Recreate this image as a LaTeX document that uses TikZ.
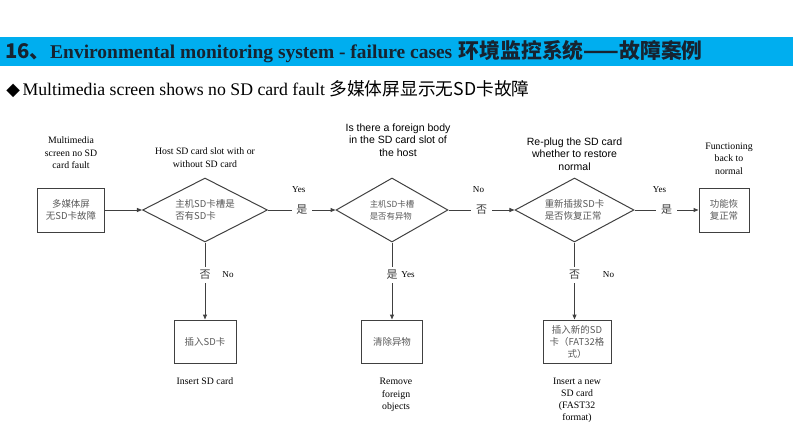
\documentclass[tikz,border=0pt]{standalone}
\usepackage{fontspec}
\setmainfont{Liberation Serif}
\setsansfont{Liberation Sans}
\newfontfamily\cjk{Noto Sans CJK SC}
\newfontfamily\symfont{DejaVu Sans}
\definecolor{barblue}{RGB}{0,174,239}
\definecolor{titleink}{RGB}{23,35,48}
\definecolor{linegray}{RGB}{64,64,64}
\definecolor{cjkgray}{RGB}{89,89,89}
\usetikzlibrary{arrows.meta, shapes.geometric, positioning, calc}

\begin{document}
\begin{tikzpicture}[x=0.75pt, y=-0.75pt,
    box/.style={draw=linegray, line width=0.75pt, inner sep=0pt, align=center,
                text=cjkgray, font=\cjk\fontsize{7.1pt}{9pt}\selectfont, minimum height=33pt},
    dec/.style={diamond, aspect=2, draw=linegray, line width=0.75pt, inner sep=0pt, align=left,
                text=cjkgray, font=\cjk\fontsize{7.1pt}{9pt}\selectfont, minimum height=48pt},
    arr/.style={-{Triangle[length=3.75pt,width=3pt]}, line width=0.75pt, linegray},
    en/.style={font=\fontsize{7.35pt}{9.2pt}\selectfont, align=center, inner sep=0pt},
    ensf/.style={font=\sffamily\fontsize{7.9pt}{9.2pt}\selectfont, align=center, inner sep=0pt},
    yn/.style={font=\fontsize{6.8pt}{8pt}\selectfont, inner sep=0pt},
    cut/.style={fill=white, font=\cjk\fontsize{8.25pt}{9pt}\selectfont, inner xsep=3.4pt, inner ysep=2.2pt}
  ]
  \useasboundingbox (0,0) rectangle (793,446);
  \fill[barblue] (0,37) rectangle (793,66);
  \node[anchor=base west, inner sep=0pt, text=titleink] (title) at (5,58)
    {{\cjk\bfseries\fontsize{15.2pt}{16pt}\selectfont 16、}\textbf{\fontsize{14.6pt}{16pt}\selectfont Environmental monitoring system - failure cases}\hspace{2.5pt} {\cjk\bfseries\fontsize{15.6pt}{16pt}\selectfont 环境监控系统——故障案例}};
  \node[anchor=base west, inner sep=0pt, font=\fontsize{13.3pt}{15pt}\selectfont] (subtitle) at (6,95)
    {{\symfont ◆}\hspace{2pt}Multimedia screen shows no SD card fault {\cjk 多媒体屏显示无SD卡故障}};

  \node[box, minimum width=50.25pt] (fault) at (71,210) {多媒体屏\\无SD卡故障};
  \node[dec, minimum width=93.75pt] (hascard) at (205,210) {主机SD卡槽是\\否有SD卡};
  \node[dec, minimum width=84pt, font=\cjk\fontsize{6.3pt}{9pt}\selectfont] (foreign) at (392,210) {主机SD卡槽\\是否有异物};
  \node[dec, minimum width=89.25pt] (replug) at (574.5,210) {重新插拔SD卡\\是否恢复正常};
  \node[box, minimum width=37.5pt] (normal) at (724,210) {功能恢\\复正常};
  \node[box, minimum width=46.5pt, minimum height=32.25pt] (insert) at (205,341.5) {插入SD卡};
  \node[box, minimum width=45.75pt, minimum height=32.25pt] (remove) at (392,341.5) {清除异物};
  \node[box, minimum width=51pt, minimum height=32.25pt] (newcard) at (577,341.5) {插入新的SD\\卡（FAT32格\\式）};

  \node[en, above=14pt of fault] {Multimedia\\screen no SD\\card fault};
  \node[en, above=7.5pt of hascard] {Host SD card slot with or\\without SD card};
  \node[ensf, above=15.75pt of foreign, xshift=4.5pt] {Is there a foreign body\\in the SD card slot of\\the host};
  \node[ensf, above=5.25pt of replug] {Re-plug the SD card\\whether to restore\\normal};
  \node[en, above=9.75pt of normal, xshift=3.75pt] {Functioning\\back to\\normal};
  \node[en, below=10.5pt of insert] {Insert SD card};
  \node[en, below=11pt of remove, xshift=3pt] {Remove\\foreign\\objects};
  \node[en, below=10.5pt of newcard] {Insert a new\\SD card\\(FAST32\\format)};

  \draw[arr] (fault) -- (hascard);
  \draw[arr] (hascard) -- node[cut] (yes1) {是} (foreign);
  \draw[arr] (foreign) -- node[cut] (no2) {否} (replug);
  \draw[arr] (replug) -- node[cut] (yes3) {是} (normal);
  \draw[arr] (hascard) -- node[cut, pos=0.42] (no1) {否} (insert);
  \draw[arr] (foreign) -- node[cut, pos=0.42] (yes2) {是} (remove);
  \draw[arr] (replug) -- node[cut, pos=0.42] (no3) {否} (replug |- newcard.north);

  \node[yn] at ($(yes1)+(-3,-20)$) {Yes};
  \node[yn] at ($(no2)+(-3,-20)$) {No};
  \node[yn] at ($(yes3)+(-7,-20)$) {Yes};
  \node[yn] at ($(no1)+(23,0)$) {No};
  \node[yn] at ($(yes2)+(16,0)$) {Yes};
  \node[yn] at ($(no3)+(34,0)$) {No};
\end{tikzpicture}
\end{document}
